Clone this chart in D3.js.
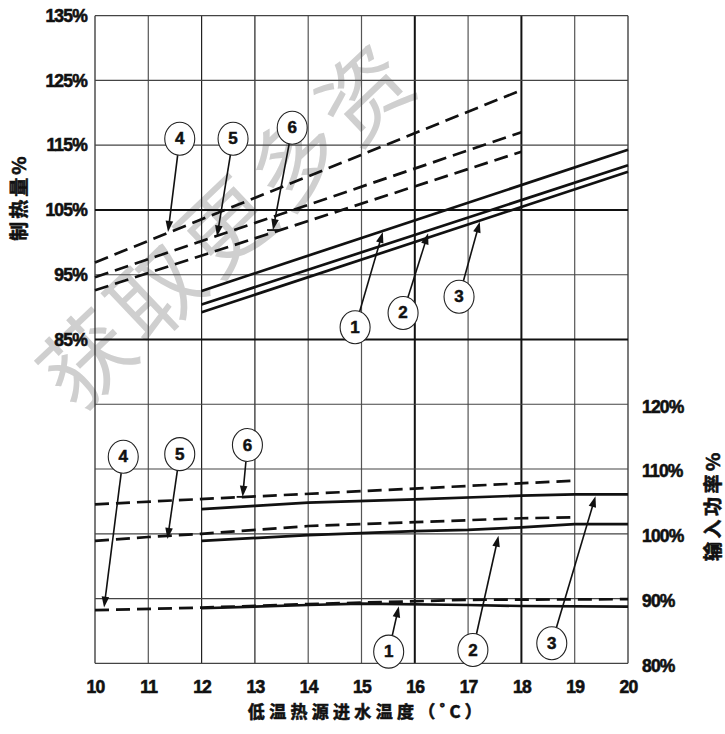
<!DOCTYPE html>
<html>
<head>
<meta charset="utf-8">
<script src="https://cdn.jsdelivr.net/npm/d3@7"></script>
<style>
  body { margin: 0; background: #fff; }
  svg { display: block; }
</style>
</head>
<body>
<svg id="chart" width="725" height="734"></svg>
<script>
// ---- Tick values ----
const temps = [10, 11, 12, 13, 14, 15, 16, 17, 18, 19, 20];
const capTicks = [135, 125, 115, 105, 95, 85];      // 制热量 %, left axis
const powTicks = [120, 110, 100, 90, 80];           // 输入功率 %, right axis

// ---- Heating capacity (%) vs inlet water temperature ----
const capDashedX = [10, 18];
const cap4 = [96.9, 123.5];
const cap5 = [94.6, 117.0];
const cap6 = [92.6, 114.0];
const capSolidX = [12, 20];
const cap1 = [92.5, 114.3];
const cap2 = [90.4, 111.9];
const cap3 = [89.2, 110.9];

// ---- Input power (%) vs inlet water temperature ----
const pow6X = [10, 19];
const pow6 = [104.55, 108.2];
const pow3X = [12, 13, 14, 16, 18, 19, 20];
const pow3 = [103.8, 104.3, 104.8, 105.3, 105.9, 106.1, 106.1];
const pow5X = [10, 11, 12, 14, 16, 18, 19];
const pow5 = [98.9, 99.5, 100.0, 101.2, 101.8, 102.4, 102.55];
const pow2X = [12, 14, 16, 17, 18, 19, 20];
const pow2 = [98.9, 99.8, 100.4, 100.6, 101.0, 101.5, 101.5];
const pow4X = [10, 12, 14, 17, 20];
const pow4 = [88.2, 88.6, 89.15, 89.8, 89.9];
const pow1X = [12, 14, 15, 17, 18, 20];
const pow1 = [88.5, 89.0, 89.2, 89.0, 88.85, 88.75];

// ---- Numbered callouts: label, bubble centre and arrow tip (data units) ----
const calloutLabels = ["4", "5", "6", "1", "2", "3", "4", "5", "6", "1", "2", "3"];
const calloutAxis   = ["cap", "cap", "cap", "cap", "cap", "cap", "pow", "pow", "pow", "pow", "pow", "pow"];
const bubbleX = [11.59, 12.59, 13.70, 14.88, 15.78, 16.83, 10.53, 11.59, 12.86, 15.51, 17.09, 18.57];
const bubbleY = [116.0, 116.0, 117.7, 86.9, 89.1, 91.6, 111.9, 112.3, 113.7, 81.8, 82.05, 83.1];
const tipX    = [11.37, 12.29, 13.34, 15.40, 16.25, 17.22, 10.17, 11.36, 12.77, 15.70, 17.57, 19.39];
const tipY    = [101.6, 100.9, 101.9, 101.6, 101.4, 103.2, 88.6, 99.2, 105.7, 88.8, 99.7, 105.8];

// ---- Layout ----
const svg = d3.select("#chart");
const plotL = 95, plotR = 628, plotT = 15.7, plotB = 663.3;

const x = d3.scaleLinear().domain([10, 20]).range([plotL, plotR]);
const yCap = d3.scaleLinear().domain([35, 135]).range([plotB, plotT]);
const yPow = d3.scaleLinear().domain([80, 180]).range([plotB, plotT]);

const latin = "'Liberation Sans', Arial, Helvetica, sans-serif";
const cjk = "'Noto Sans CJK SC', 'Noto Sans', sans-serif";
const ink = "#111";

// ---- Background watermark text ----
svg.append("text")
  .attr("transform", "translate(50,386) rotate(-43.6)")
  .attr("dominant-baseline", "central")
  .attr("font-family", cjk)
  .attr("font-size", 90)
  .attr("letter-spacing", 6)
  .attr("fill", "#cfcfcf")
  .text("获取更多资");

// ---- Grid ----
const grid = svg.append("g");
const heavyX = new Set([16, 18]);
const heavyY = new Set([105, 85]);
const darkX = new Set([10, 12, 13, 20]);

grid.selectAll("line.v").data(temps).join("line")
  .attr("class", "v")
  .attr("x1", d => x(d)).attr("x2", d => x(d))
  .attr("y1", plotT).attr("y2", plotB)
  .attr("stroke", d => heavyX.has(d) ? ink : (darkX.has(d) ? "#222" : "#555"))
  .attr("stroke-width", d => heavyX.has(d) ? 2 : 1.2);

const hLevels = d3.range(35, 136, 10);
grid.selectAll("line.h").data(hLevels).join("line")
  .attr("class", "h")
  .attr("x1", plotL).attr("x2", plotR)
  .attr("y1", d => yCap(d)).attr("y2", d => yCap(d))
  .attr("stroke", d => heavyY.has(d) ? ink : "#444")
  .attr("stroke-width", d => heavyY.has(d) ? 2 : 1.2);

// ---- Curves ----
const series = [
  { xs: capDashedX, ys: cap4, scale: yCap, dashed: true },
  { xs: capDashedX, ys: cap5, scale: yCap, dashed: true },
  { xs: capDashedX, ys: cap6, scale: yCap, dashed: true },
  { xs: capSolidX,  ys: cap1, scale: yCap, dashed: false },
  { xs: capSolidX,  ys: cap2, scale: yCap, dashed: false },
  { xs: capSolidX,  ys: cap3, scale: yCap, dashed: false },
  { xs: pow6X, ys: pow6, scale: yPow, dashed: true },
  { xs: pow3X, ys: pow3, scale: yPow, dashed: false },
  { xs: pow5X, ys: pow5, scale: yPow, dashed: true },
  { xs: pow2X, ys: pow2, scale: yPow, dashed: false },
  { xs: pow4X, ys: pow4, scale: yPow, dashed: true },
  { xs: pow1X, ys: pow1, scale: yPow, dashed: false }
];

const curves = svg.append("g");
series.forEach(s => {
  const pts = s.xs.map((t, i) => [t, s.ys[i]]);
  const line = d3.line().x(d => x(d[0])).y(d => s.scale(d[1]));
  curves.append("path")
    .attr("d", line(pts))
    .attr("fill", "none")
    .attr("stroke", ink)
    .attr("stroke-width", 2.7)
    .attr("stroke-dasharray", s.dashed ? "14,7" : null);
});

// ---- Axes ----
const pct = d => d + "%";

const axL = svg.append("g")
  .attr("transform", `translate(${plotL},0)`)
  .call(d3.axisLeft(yCap).tickValues(capTicks).tickSize(0).tickPadding(8).tickFormat(pct));
const axR = svg.append("g")
  .attr("transform", `translate(${plotR},0)`)
  .call(d3.axisRight(yPow).tickValues(powTicks).tickSize(0).tickPadding(14).tickFormat(pct));
const axB = svg.append("g")
  .attr("transform", `translate(0,${plotB})`)
  .call(d3.axisBottom(x).tickValues(temps).tickSize(0).tickPadding(17).tickFormat(d3.format("d")));

[axL, axR, axB].forEach(a => {
  a.select(".domain").remove();
  a.selectAll("text")
    .attr("font-family", latin)
    .attr("font-weight", "bold")
    .attr("font-size", 17.5)
    .attr("letter-spacing", -0.8)
    .attr("fill", ink)
    .attr("stroke", ink)
    .attr("stroke-width", 0.6);
});
axR.selectAll("text").attr("dy", "0.45em");

// ---- Axis titles ----
const heavyText = sel => sel
  .attr("text-anchor", "middle").attr("dominant-baseline", "central")
  .attr("font-family", cjk).attr("font-weight", "bold")
  .attr("fill", ink).attr("stroke", ink).attr("stroke-width", 0.6);

svg.append("text")
  .attr("transform", "translate(17,197) rotate(-90)")
  .call(heavyText)
  .attr("font-size", 19).attr("letter-spacing", 3)
  .text("制热量%");

svg.append("text")
  .attr("transform", "translate(711,505) rotate(-90)")
  .call(heavyText)
  .attr("font-size", 19).attr("letter-spacing", 3.5)
  .text("输入功率%");

svg.append("text")
  .attr("x", 367).attr("y", 710)
  .call(heavyText)
  .attr("font-size", 17).attr("letter-spacing", 4.3)
  .text("低温热源进水温度（˚C）");

// ---- Callouts: bubble + arrow ----
const rx = 15, ry = 16.5;
const ann = svg.append("g");
calloutLabels.forEach((lab, i) => {
  const ys = calloutAxis[i] === "cap" ? yCap : yPow;
  const cx = x(bubbleX[i]), cy = ys(bubbleY[i]);
  const tx = x(tipX[i]), ty = ys(tipY[i]);
  const dx = tx - cx, dy = ty - cy;
  const len = Math.hypot(dx, dy);
  const ux = dx / len, uy = dy / len;
  const t = 1 / Math.sqrt((ux / rx) ** 2 + (uy / ry) ** 2);
  const sx = cx + ux * t, sy = cy + uy * t;
  const head = 11, half = 3.8;
  const bx = tx - ux * head, by = ty - uy * head;

  ann.append("line")
    .attr("x1", sx).attr("y1", sy).attr("x2", bx + ux * 2).attr("y2", by + uy * 2)
    .attr("stroke", ink).attr("stroke-width", 1.6);
  ann.append("path")
    .attr("d", `M${tx},${ty}L${bx - uy * half},${by + ux * half}L${bx + uy * half},${by - ux * half}Z`)
    .attr("fill", ink);
  if (lab === "6") {
    ann.append("line")
      .attr("x1", tx - 6).attr("x2", tx + 6)
      .attr("y1", ty).attr("y2", ty)
      .attr("stroke", ink).attr("stroke-width", 1.8);
  }
  ann.append("ellipse")
    .attr("cx", cx).attr("cy", cy).attr("rx", rx).attr("ry", ry)
    .attr("fill", "#fff").attr("stroke", "#222").attr("stroke-width", 1.1);
  ann.append("text")
    .attr("x", cx).attr("y", cy)
    .attr("text-anchor", "middle").attr("dominant-baseline", "central")
    .attr("font-family", latin).attr("font-weight", "bold").attr("font-size", 17)
    .attr("fill", ink).attr("stroke", ink).attr("stroke-width", 0.5)
    .text(lab);
});
</script>
</body>
</html>
